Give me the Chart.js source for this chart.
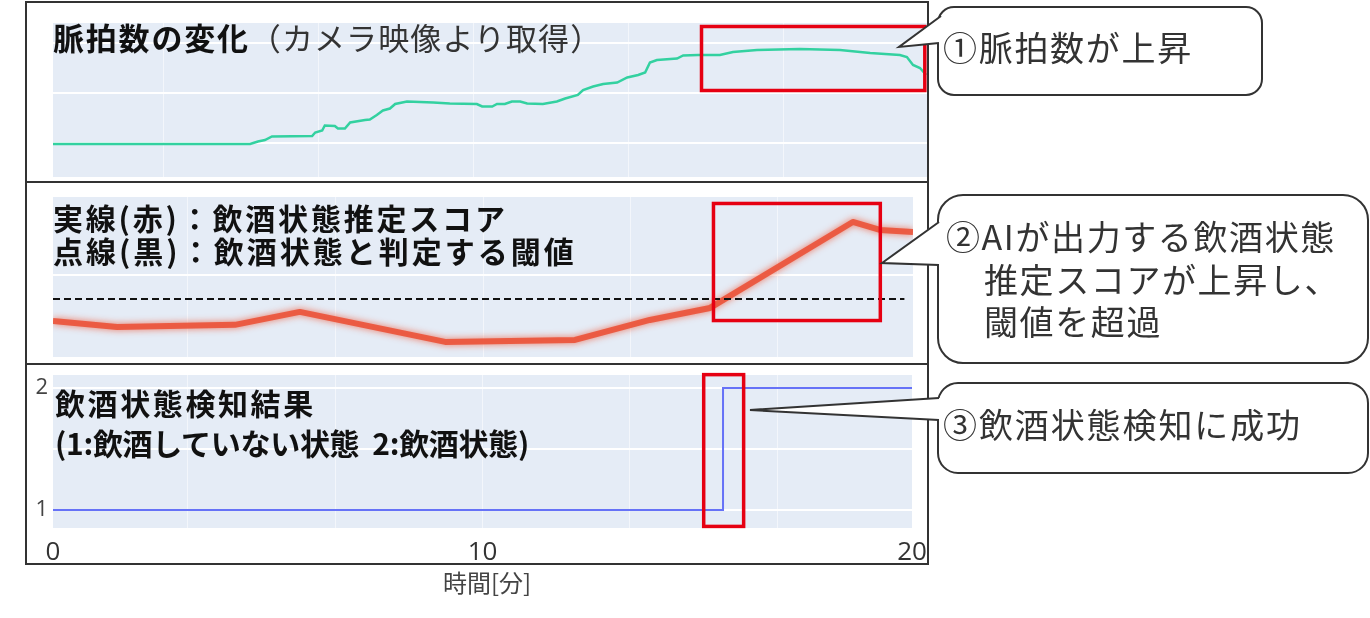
<!DOCTYPE html>
<html>
<head>
<meta charset="utf-8">
<script src="https://cdn.jsdelivr.net/npm/chart.js@4.4.0/dist/chart.umd.min.js"></script>
<style>
body { margin: 0; background: #fff; }
#wrap { position: relative; width: 1370px; height: 618px; overflow: hidden; font-family: "Noto Sans CJK JP", sans-serif; }
canvas { position: absolute; }
.frame { position: absolute; left: 25px; top: 1px; width: 904px; height: 564px; border: 2px solid #333; box-sizing: border-box; }
.rule { position: absolute; left: 25px; width: 904px; height: 2px; background: #333; }
.txt { position: absolute; white-space: pre; line-height: 1; }
.ttl { font-weight: 700; color: #111; font-size: 30px; }
.note { font-weight: 400; color: #333; font-size: 34px; }
svg { position: absolute; left: 0; top: 0; }
</style>
</head>
<body>
<div id="wrap">
  <div class="frame"></div>
  <div class="rule" style="top:181px"></div>
  <div class="rule" style="top:363px"></div>

  <canvas id="pulse" width="901" height="177" style="left:27px;top:4px"></canvas>
  <canvas id="score" width="901" height="179" style="left:27px;top:184px"></canvas>
  <canvas id="state" width="901" height="196" style="left:27px;top:366px"></canvas>

  <svg width="1370" height="618">
    <g fill="#fff" stroke="#333" stroke-width="2">
      <rect x="938" y="7" width="324" height="88" rx="16"/>
      <rect x="938" y="195" width="430" height="168" rx="25"/>
      <rect x="938" y="383" width="430" height="90" rx="20"/>
    </g>
    <g fill="#fff" stroke="none">
      <polygon points="899,47 941,16 952,22 946,43 938,43"/>
      <polygon points="882,263 938,222 944,222 944,265 938,265"/>
      <polygon points="750,410 938,398 944,398 944,420 938,420"/>
    </g>
    <g fill="none" stroke="#333" stroke-width="2">
      <polyline points="941,16 899,47 939,43"/>
      <polyline points="939,222 882,263 939,265"/>
      <polyline points="939,398 750,410 939,420"/>
    </g>
  </svg>

  <div class="txt ttl" style="left:53px;top:21px;font-size:31px"><span style="letter-spacing:1.8px">脈拍数の変化</span><span style="font-weight:400;color:#333;letter-spacing:1.1px">（カメラ映像より取得）</span></div>
  <div class="txt ttl" style="left:53px;top:202px;letter-spacing:2.8px">実線(赤)：飲酒状態推定スコア</div>
  <div class="txt ttl" style="left:53px;top:235px;letter-spacing:3px">点線(黒)：飲酒状態と判定する閾値</div>
  <div class="txt ttl" style="left:55px;top:387px;letter-spacing:2.6px">飲酒状態検知結果</div>
  <div class="txt ttl" style="left:55px;top:427px;letter-spacing:-0.3px">(1:飲酒していない状態  2:飲酒状態)</div>

  <div class="txt note" style="left:943px;top:30px;letter-spacing:1.7px">①脈拍数が上昇</div>
  <div class="txt note" style="left:946px;top:219px;letter-spacing:1.6px">②AIが出力する飲酒状態</div>
  <div class="txt note" style="left:984px;top:262px;letter-spacing:1.6px">推定スコアが上昇し、</div>
  <div class="txt note" style="left:984px;top:304px;letter-spacing:1.6px">閾値を超過</div>
  <div class="txt note" style="left:943px;top:407px;letter-spacing:1.9px">③飲酒状態検知に成功</div>

  <div class="txt" style="left:443px;top:570px;font-size:24px;color:#444">時間[分]</div>
</div>

<script>
// pulse rate read from the camera (time in minutes, bpm)
var pulseTime = [0, 4.51, 4.69, 4.85, 5.01, 5.93, 6.00, 6.16, 6.22, 6.45, 6.52, 6.68, 6.80, 7.14, 7.25, 7.41, 7.55, 7.71, 7.83, 8.10,
                 8.70, 9.08, 9.70, 9.82, 10.05, 10.16, 10.34, 10.50, 10.69, 10.85, 11.21, 11.53, 11.72, 12.01, 12.13, 12.36, 12.59,
                 12.91, 13.14, 13.39, 13.55, 13.66, 13.82, 14.28, 14.42, 14.76, 15.26, 15.56, 16.11, 17.09, 18.01, 18.70, 19.38,
                 19.54, 19.68, 19.84, 19.98];
var pulseBpm = [59.8, 59.8, 60.3, 60.6, 61.3, 61.4, 62.1, 62.5, 63.5, 63.4, 62.9, 62.9, 64.1, 64.6, 64.7, 65.6, 66.5, 66.9, 67.8, 68.3,
                68.1, 67.9, 67.8, 67.3, 67.3, 67.8, 67.8, 68.3, 68.3, 67.9, 67.8, 68.3, 68.9, 69.6, 70.6, 71.3, 71.8,
                72.1, 73.1, 73.6, 74.1, 76.1, 76.6, 76.9, 77.5, 77.6, 77.6, 78.2, 78.6, 78.8, 78.6, 78.0, 77.6,
                77.2, 75.6, 75.0, 73.6];

// drinking-state score from the AI and the decision threshold
var scoreTime = [0, 1.49, 4.23, 5.74, 9.12, 12.14, 13.88, 15.28, 18.60, 19.23, 20];
var scoreValue = [0.308, 0.283, 0.292, 0.346, 0.221, 0.229, 0.3125, 0.3625, 0.721, 0.6875, 0.679];
var thresholdTime = [0, 19.8];
var thresholdValue = [0.4, 0.4];

// detection result (1: not drinking, 2: drinking)
var stateTime = [0, 15.6, 20];
var stateValue = [1, 2, 2];

// grid and tick positions
var pulseGridX = [2.52, 6.07, 9.62, 13.17, 16.72];
var pulseGridY = [60, 70, 80];
var scoreGridX = [3.13, 6.57, 10, 13.43, 16.86];
var scoreGridY = [0.5];
var stateGridY = [1, 1.5, 2];
var timeTicks = [0, 10, 20];

// highlighted areas [t0, t1, vTop, vBottom]
var pulseBox = [14.84, 19.95, 83.3, 70.5];
var scoreBox = [15.36, 19.24, 0.798, 0.310];
var stateBox = [15.15, 16.08, 2.11, 0.865];

var zip = function(xs, ys) {
    return xs.map(function(x, i) { return {x: x, y: ys[i]}; });
};
var fixTicks = function(vals) {
    return function(axis) { axis.ticks = vals.map(function(v) { return {value: v}; }); };
};
var noPad = function(size, key) {
    return function(axis) {
        axis.paddingTop = 0; axis.paddingBottom = 0;
        axis.paddingLeft = 0; axis.paddingRight = 0;
        if (key) axis[key] = size;
    };
};

Chart.defaults.font.family = "'Open Sans', sans-serif";
Chart.defaults.animation = false;
Chart.defaults.plugins.legend.display = false;
Chart.defaults.plugins.tooltip.enabled = false;

var plotBg = {
    id: 'plotBg',
    beforeDraw: function(chart) {
        var a = chart.chartArea, ctx = chart.ctx;
        ctx.save();
        ctx.fillStyle = '#e5ecf6';
        ctx.fillRect(a.left, a.top, a.right - a.left, a.bottom - a.top);
        ctx.restore();
    }
};
var glow = {
    id: 'glow',
    beforeDatasetDraw: function(chart, args) {
        var ds = chart.data.datasets[args.index];
        chart.ctx.save();
        if (ds.glow) {
            chart.ctx.shadowColor = ds.glow;
            chart.ctx.shadowBlur = 7;
        }
    },
    afterDatasetDraw: function(chart) {
        chart.ctx.restore();
    }
};
var redbox = {
    id: 'redbox',
    afterDatasetsDraw: function(chart, args, opts) {
        if (!opts.box) return;
        var b = opts.box, x = chart.scales.x, y = chart.scales.y, ctx = chart.ctx;
        var l = x.getPixelForValue(b[0]), r = x.getPixelForValue(b[1]);
        var t = y.getPixelForValue(b[2]), btm = y.getPixelForValue(b[3]);
        ctx.save();
        ctx.strokeStyle = '#e60012';
        ctx.lineWidth = 3.5;
        ctx.strokeRect(l, t, r - l, btm - t);
        ctx.restore();
    }
};

var gridAxis = function(min, max, ticks, color, width) {
    return {
        type: 'linear', min: min, max: max,
        afterBuildTicks: fixTicks(ticks),
        ticks: {display: false},
        grid: {color: color, lineWidth: width, drawTicks: false},
        border: {display: false}
    };
};
var vGrid = 'rgba(255,255,255,0.55)';

window.onload = function() {
    new Chart(document.getElementById('pulse'), {
        type: 'line',
        data: {
            datasets: [{
                data: zip(pulseTime, pulseBpm),
                borderColor: '#33d1a0',
                borderWidth: 2.5,
                pointRadius: 0
            }]
        },
        options: {
            responsive: false,
            layout: {autoPadding: false, padding: {left: 26, right: 1, top: 19, bottom: 4}},
            scales: {
                x: gridAxis(0, 20, pulseGridX, vGrid, 1),
                y: gridAxis(53.2, 84, pulseGridY, '#ffffff', 2)
            },
            plugins: {redbox: {box: pulseBox}}
        },
        plugins: [plotBg, glow, redbox]
    });

    new Chart(document.getElementById('score'), {
        type: 'line',
        data: {
            datasets: [{
                data: zip(thresholdTime, thresholdValue),
                borderColor: '#111',
                borderWidth: 2,
                borderDash: [7, 4],
                pointRadius: 0
            }, {
                data: zip(scoreTime, scoreValue),
                borderColor: 'rgba(234,80,54,0.88)',
                borderWidth: 6,
                borderJoinStyle: 'round',
                glow: 'rgba(240,95,65,0.95)',
                pointRadius: 0
            }]
        },
        options: {
            responsive: false,
            layout: {autoPadding: false, padding: {left: 26, right: 15, top: 13, bottom: 6}},
            scales: {
                x: gridAxis(0, 20, scoreGridX, vGrid, 1),
                y: gridAxis(0.158, 0.825, scoreGridY, '#ffffff', 2)
            },
            plugins: {redbox: {box: scoreBox}}
        },
        plugins: [plotBg, glow, redbox]
    });

    var stateY = gridAxis(0.852, 2.107, stateGridY, '#ffffff', 2);
    stateY.ticks = {
        display: true, padding: 5, color: '#444',
        font: {size: 22},
        callback: function(v) { return v === 1.5 ? '' : v; }
    };
    stateY.afterFit = noPad(26, 'width');
    var stateX = gridAxis(0, 20, scoreGridX, vGrid, 1);
    stateX.afterFit = noPad(0, 'height');

    new Chart(document.getElementById('state'), {
        type: 'line',
        data: {
            datasets: [{
                data: zip(stateTime, stateValue),
                stepped: 'before',
                borderColor: '#6672f7',
                borderWidth: 2,
                pointRadius: 0
            }]
        },
        options: {
            responsive: false,
            layout: {autoPadding: false, padding: {left: 0, right: 16, top: 9, bottom: 0}},
            scales: {
                x: stateX,
                xl: {
                    type: 'linear', min: 0, max: 20, position: 'bottom',
                    afterBuildTicks: fixTicks(timeTicks),
                    afterFit: noPad(34, 'height'),
                    ticks: {color: '#333', font: {size: 26}, padding: 1, maxRotation: 0, autoSkip: false},
                    grid: {display: false},
                    border: {display: false}
                },
                y: stateY
            },
            plugins: {redbox: {box: stateBox}}
        },
        plugins: [plotBg, glow, redbox]
    });
};
</script>
</body>
</html>
